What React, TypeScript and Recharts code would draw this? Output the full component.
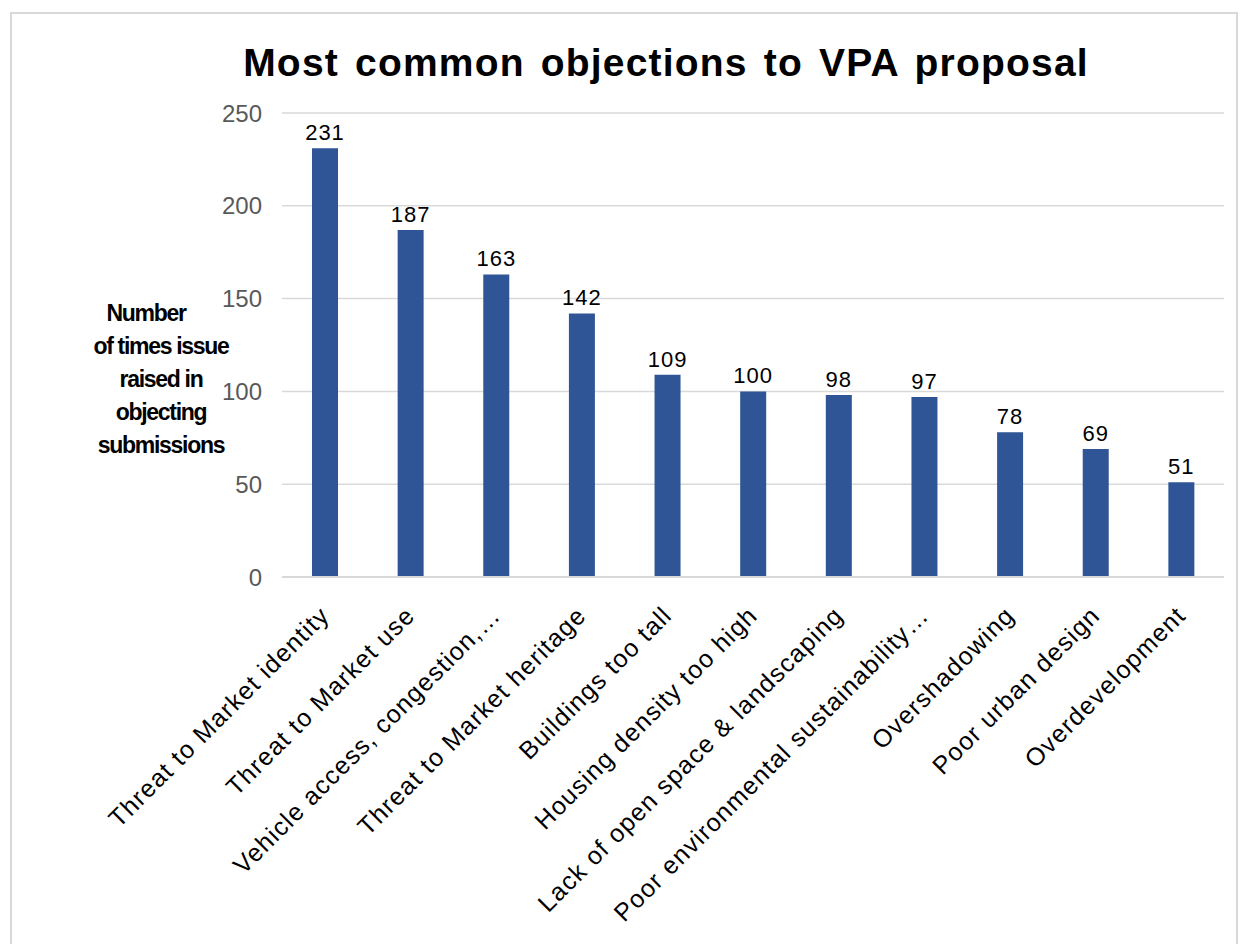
import { BarChart, Bar, XAxis, YAxis, CartesianGrid, LabelList, Label } from 'recharts'

const categories = [
  'Threat to Market identity',
  'Threat to Market use',
  'Vehicle access, congestion,…',
  'Threat to Market heritage',
  'Buildings too tall',
  'Housing density too high',
  'Lack of open space & landscaping',
  'Poor environmental sustainability…',
  'Overshadowing',
  'Poor urban design',
  'Overdevelopment',
]
const counts = [231, 187, 163, 142, 109, 100, 98, 97, 78, 69, 51]
const yTicks = [0, 50, 100, 150, 200, 250]
const yTitleLines = ['Number', 'of times issue', 'raised in', 'objecting', 'submissions']

const data = categories.map((name, i) => ({ name, count: counts[i] }))

const font = '"Liberation Sans", Arial, sans-serif'

function CategoryTick(props: any) {
  const { x, y, payload } = props
  return (
    <g transform={`translate(${x + 6},${y + 32})`}>
      <text
        x={0}
        y={0}
        textAnchor="end"
        transform="rotate(-45)"
        fill="#000"
        fontSize={25}
        letterSpacing={1.2}
        fontFamily={font}
      >
        {payload.value}
      </text>
    </g>
  )
}

function YTitle() {
  return (
    <text
      textAnchor="middle"
      fontFamily={font}
      fontSize={23}
      letterSpacing={-1.3}
      fontWeight="bold"
      fill="#000"
    >
      {yTitleLines.map((line, i) => (
        <tspan key={i} x={i === 0 ? 146 : 161} y={321 + i * 33}>
          {line}
        </tspan>
      ))}
    </text>
  )
}

export default function App() {
  return (
    <div style={{ position: 'absolute', left: 0, top: 0, width: 1246, height: 944, overflow: 'hidden', background: '#fff' }}>
      <div
        style={{
          position: 'absolute',
          left: 10,
          top: 12,
          width: 1228,
          height: 1000,
          border: '2px solid #d9d9d9',
          boxSizing: 'border-box',
        }}
      />
      <div
        style={{
          position: 'absolute',
          left: 0,
          width: 1332,
          top: 41,
          textAlign: 'center',
          fontFamily: font,
          fontWeight: 'bold',
          fontSize: 39,
          letterSpacing: 1.2,
          wordSpacing: 4,
          whiteSpace: 'nowrap',
          color: '#000',
        }}
      >
        Most common objections to VPA proposal
      </div>
      <div style={{ position: 'absolute', left: 0, top: 0 }}>
        <BarChart
          width={1246}
          height={944}
          data={data}
          margin={{ top: 113, right: 22, bottom: 7, left: 222 }}
          barSize={26}
        >
          <CartesianGrid vertical={false} stroke="#d9d9d9" strokeWidth={1.5} />
          <XAxis
            dataKey="name"
            interval={0}
            height={360}
            tick={<CategoryTick />}
            tickLine={false}
            axisLine={{ stroke: '#d9d9d9', strokeWidth: 2 }}
          />
          <YAxis
            width={60}
            domain={[0, 250]}
            ticks={yTicks}
            tickLine={false}
            axisLine={false}
            tick={{ fill: '#595959', fontSize: 24, fontFamily: font }}
            tickMargin={14}
          >
            <Label content={<YTitle />} />
          </YAxis>
          <Bar dataKey="count" fill="#2F5597" isAnimationActive={false}>
            <LabelList
              dataKey="count"
              position="top"
              offset={8}
              fill="#000"
              fontSize={22}
              letterSpacing={1}
              fontFamily={font}
            />
          </Bar>
        </BarChart>
      </div>
    </div>
  )
}
